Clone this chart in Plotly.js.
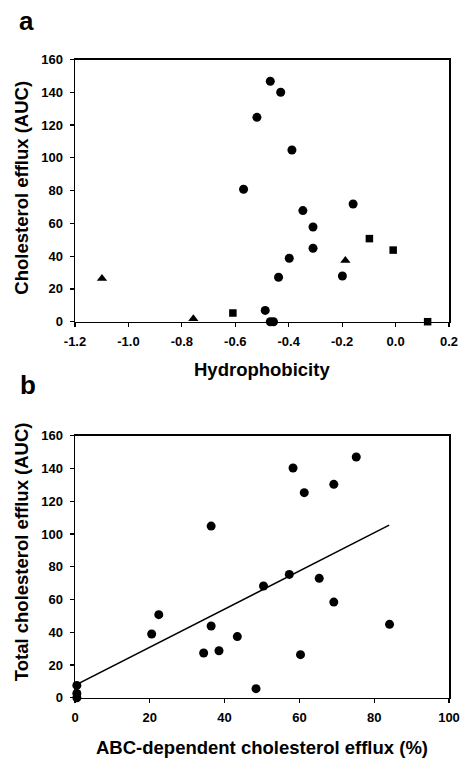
<!DOCTYPE html>
<html>
<head>
<meta charset="utf-8">
<script src="https://cdn.plot.ly/plotly-3.0.1.min.js"></script>
<style>html,body{margin:0;padding:0;background:#fff;}#chart{width:474px;height:768px;}</style>
</head>
<body>
<div id="chart"></div>
<script>
// Panel a: hydrophobicity vs cholesterol efflux
const circleX = [-0.469, -0.43, -0.519, -0.388, -0.569, -0.159, -0.347, -0.309, -0.309, -0.398, -0.199, -0.438, -0.488, -0.469, -0.457];
const circleY = [146.7, 140, 124.7, 104.8, 80.8, 71.8, 67.8, 57.8, 44.8, 38.7, 27.9, 27.1, 6.9, 0, 0];
const triangleX = [-1.099, -0.757, -0.188];
const triangleY = [26.4, 1.8, 37.4];
const squareX = [-0.609, -0.098, -0.009, 0.12];
const squareY = [5.3, 50.7, 43.7, 0];

// Panel b: ABC-dependent efflux vs total efflux
const abcX = [0.5, 0.5, 0.5, 20.5, 22.4, 34.4, 36.4, 36.4, 38.5, 43.4, 48.4, 50.4, 57.3, 58.3, 60.3, 61.3, 65.3, 69.2, 69.2, 75.2, 84.1];
const totalY = [7.5, 2.6, 0, 38.9, 50.7, 27.3, 104.8, 43.8, 28.7, 37.3, 5.5, 68.2, 75.3, 140.3, 26.3, 125.2, 72.9, 130.3, 58.4, 147, 44.8];
const trendX = [0, 84];
const trendY = [7.5, 105.4];

const xTicksA = [-1.2, -1.0, -0.8, -0.6, -0.4, -0.2, 0.0, 0.2];
const yTicks = [0, 20, 40, 60, 80, 100, 120, 140, 160];
const xTicksB = [0, 20, 40, 60, 80, 100];

const W = 474, H = 768;
const px = v => v / W;
const py = v => 1 - v / H;

const FONT = 'Liberation Sans, Arial, sans-serif';
const tickFont = {family: FONT, size: 13, color: '#000', weight: 'bold'};

const baseAxis = {
  showline: true, mirror: true, linecolor: '#000', linewidth: 1.5,
  ticks: 'outside', ticklen: 4, tickwidth: 1.2, tickcolor: '#000',
  showgrid: false, zeroline: false, tickfont: tickFont, automargin: false
};

const mk = (sym, size) => ({symbol: sym, size: size, color: '#000', line: {width: 0}});

const traces = [
  {x: circleX, y: circleY, type: 'scatter', mode: 'markers', marker: mk('circle', 9), xaxis: 'x', yaxis: 'y', cliponaxis: false, showlegend: false},
  {x: triangleX, y: triangleY, type: 'scatter', mode: 'markers', marker: mk('triangle-up', 9), xaxis: 'x', yaxis: 'y', cliponaxis: false, showlegend: false},
  {x: squareX, y: squareY, type: 'scatter', mode: 'markers', marker: mk('square', 7.5), xaxis: 'x', yaxis: 'y', cliponaxis: false, showlegend: false},
  {x: abcX, y: totalY, type: 'scatter', mode: 'markers', marker: mk('circle', 9), xaxis: 'x2', yaxis: 'y2', cliponaxis: false, showlegend: false},
  {x: trendX, y: trendY, type: 'scatter', mode: 'lines', line: {color: '#000', width: 1.5}, xaxis: 'x2', yaxis: 'y2', cliponaxis: false, showlegend: false}
];

const titleFont = {family: FONT, size: 18.5, color: '#000', weight: 'bold'};
const letterFont = {family: FONT, size: 26, color: '#000', weight: 'bold'};

const ann = (text, x, y, font, angle) => ({
  text: text, x: px(x), y: py(y), xref: 'paper', yref: 'paper',
  xanchor: 'center', yanchor: 'middle', showarrow: false, font: font, textangle: angle || 0
});

const layout = {
  width: W, height: H,
  margin: {l: 0, r: 0, t: 0, b: 0},
  paper_bgcolor: '#fff', plot_bgcolor: '#fff',
  xaxis: Object.assign({}, baseAxis, {domain: [px(75), px(449)], range: [-1.2, 0.2], tickvals: xTicksA, ticktext: xTicksA.map(v => v.toFixed(1)), anchor: 'y', ticklabelstandoff: 3}),
  yaxis: Object.assign({}, baseAxis, {domain: [py(321.7), py(59.5)], range: [0, 160], tickvals: yTicks, anchor: 'x', ticklabelstandoff: 4}),
  xaxis2: Object.assign({}, baseAxis, {domain: [px(75), px(449)], range: [0, 100], tickvals: xTicksB, anchor: 'y2', ticklabelstandoff: 3}),
  yaxis2: Object.assign({}, baseAxis, {domain: [py(697.7), py(435.7)], range: [0, 160], tickvals: yTicks, anchor: 'x2', ticklabelstandoff: 4}),
  annotations: [
    ann('a', 26, 20.5, letterFont),
    ann('b', 27.5, 384.5, letterFont),
    ann('Cholesterol efflux (AUC)', 21.7, 188, titleFont, -90),
    ann('Hydrophobicity', 262, 370, titleFont),
    ann('Total cholesterol efflux (AUC)', 21.7, 551.5, titleFont, -90),
    ann('ABC-dependent cholesterol efflux (%)', 262, 747, titleFont)
  ]
};

Plotly.newPlot('chart', traces, layout, {displayModeBar: false, staticPlot: true});
</script>
</body>
</html>
